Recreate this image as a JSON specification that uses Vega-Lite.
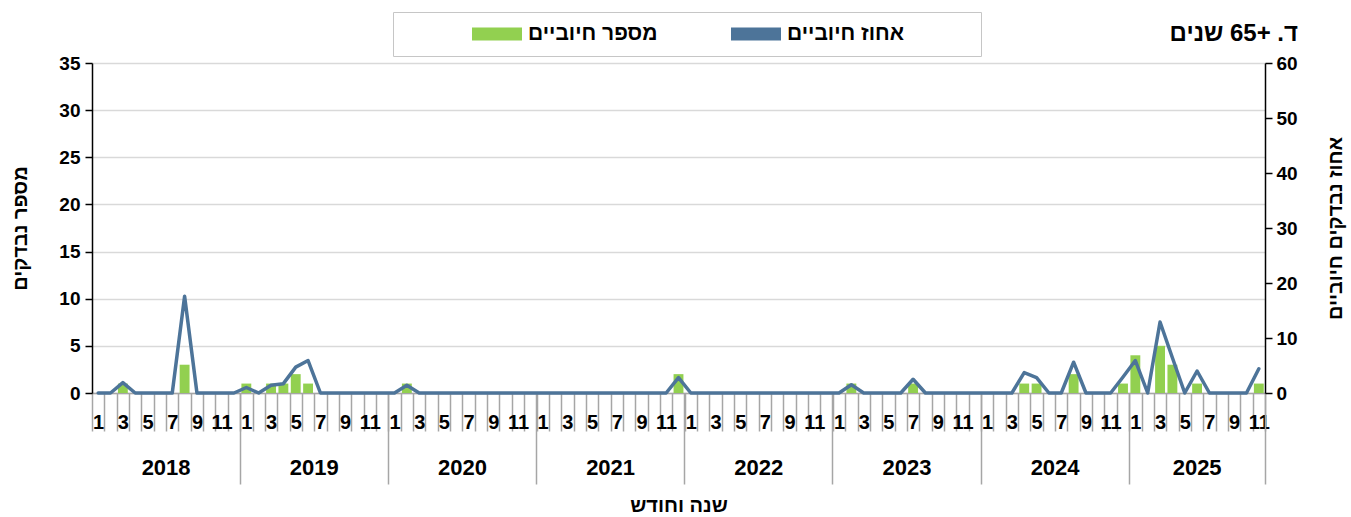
{
  "$schema": "https://vega.github.io/schema/vega-lite/v6.json",
  "width": 1173,
  "height": 330,
  "autosize": {"type": "none"},
  "padding": {"left": 92, "top": 63, "right": 86, "bottom": 124},
  "background": "white",
  "config": {
    "view": {"stroke": null},
    "font": "Liberation Sans",
    "text": {"font": "Liberation Sans"}
  },
  "title": {
    "text": "\u202bד. +65 שנים\u202c",
    "anchor": "end",
    "frame": "group",
    "font": "Liberation Sans",
    "fontSize": 24,
    "fontWeight": "bold",
    "color": "black",
    "offset": 0,
    "dx": 33,
    "dy": 34
  },
  "data": {
    "values": [
      {"ym": "2018-01", "count": 0, "pct": 0}, {"ym": "2018-02", "count": 0, "pct": 0}, {"ym": "2018-03", "count": 1, "pct": 1.9}, {"ym": "2018-04", "count": 0, "pct": 0},
      {"ym": "2018-05", "count": 0, "pct": 0}, {"ym": "2018-06", "count": 0, "pct": 0}, {"ym": "2018-07", "count": 0, "pct": 0}, {"ym": "2018-08", "count": 3, "pct": 17.6},
      {"ym": "2018-09", "count": 0, "pct": 0}, {"ym": "2018-10", "count": 0, "pct": 0}, {"ym": "2018-11", "count": 0, "pct": 0}, {"ym": "2018-12", "count": 0, "pct": 0},
      {"ym": "2019-01", "count": 1, "pct": 1.0}, {"ym": "2019-02", "count": 0, "pct": 0}, {"ym": "2019-03", "count": 1, "pct": 1.4}, {"ym": "2019-04", "count": 1, "pct": 1.7},
      {"ym": "2019-05", "count": 2, "pct": 4.7}, {"ym": "2019-06", "count": 1, "pct": 5.9}, {"ym": "2019-07", "count": 0, "pct": 0}, {"ym": "2019-08", "count": 0, "pct": 0},
      {"ym": "2019-09", "count": 0, "pct": 0}, {"ym": "2019-10", "count": 0, "pct": 0}, {"ym": "2019-11", "count": 0, "pct": 0}, {"ym": "2019-12", "count": 0, "pct": 0},
      {"ym": "2020-01", "count": 0, "pct": 0}, {"ym": "2020-02", "count": 1, "pct": 1.4}, {"ym": "2020-03", "count": 0, "pct": 0}, {"ym": "2020-04", "count": 0, "pct": 0},
      {"ym": "2020-05", "count": 0, "pct": 0}, {"ym": "2020-06", "count": 0, "pct": 0}, {"ym": "2020-07", "count": 0, "pct": 0}, {"ym": "2020-08", "count": 0, "pct": 0},
      {"ym": "2020-09", "count": 0, "pct": 0}, {"ym": "2020-10", "count": 0, "pct": 0}, {"ym": "2020-11", "count": 0, "pct": 0}, {"ym": "2020-12", "count": 0, "pct": 0},
      {"ym": "2021-01", "count": 0, "pct": 0}, {"ym": "2021-02", "count": 0, "pct": 0}, {"ym": "2021-03", "count": 0, "pct": 0}, {"ym": "2021-04", "count": 0, "pct": 0},
      {"ym": "2021-05", "count": 0, "pct": 0}, {"ym": "2021-06", "count": 0, "pct": 0}, {"ym": "2021-07", "count": 0, "pct": 0}, {"ym": "2021-08", "count": 0, "pct": 0},
      {"ym": "2021-09", "count": 0, "pct": 0}, {"ym": "2021-10", "count": 0, "pct": 0}, {"ym": "2021-11", "count": 0, "pct": 0}, {"ym": "2021-12", "count": 2, "pct": 2.8},
      {"ym": "2022-01", "count": 0, "pct": 0}, {"ym": "2022-02", "count": 0, "pct": 0}, {"ym": "2022-03", "count": 0, "pct": 0}, {"ym": "2022-04", "count": 0, "pct": 0},
      {"ym": "2022-05", "count": 0, "pct": 0}, {"ym": "2022-06", "count": 0, "pct": 0}, {"ym": "2022-07", "count": 0, "pct": 0}, {"ym": "2022-08", "count": 0, "pct": 0},
      {"ym": "2022-09", "count": 0, "pct": 0}, {"ym": "2022-10", "count": 0, "pct": 0}, {"ym": "2022-11", "count": 0, "pct": 0}, {"ym": "2022-12", "count": 0, "pct": 0},
      {"ym": "2023-01", "count": 0, "pct": 0}, {"ym": "2023-02", "count": 1, "pct": 1.5}, {"ym": "2023-03", "count": 0, "pct": 0}, {"ym": "2023-04", "count": 0, "pct": 0},
      {"ym": "2023-05", "count": 0, "pct": 0}, {"ym": "2023-06", "count": 0, "pct": 0}, {"ym": "2023-07", "count": 1, "pct": 2.5}, {"ym": "2023-08", "count": 0, "pct": 0},
      {"ym": "2023-09", "count": 0, "pct": 0}, {"ym": "2023-10", "count": 0, "pct": 0}, {"ym": "2023-11", "count": 0, "pct": 0}, {"ym": "2023-12", "count": 0, "pct": 0},
      {"ym": "2024-01", "count": 0, "pct": 0}, {"ym": "2024-02", "count": 0, "pct": 0}, {"ym": "2024-03", "count": 0, "pct": 0}, {"ym": "2024-04", "count": 1, "pct": 3.7},
      {"ym": "2024-05", "count": 1, "pct": 2.8}, {"ym": "2024-06", "count": 0, "pct": 0}, {"ym": "2024-07", "count": 0, "pct": 0}, {"ym": "2024-08", "count": 2, "pct": 5.6},
      {"ym": "2024-09", "count": 0, "pct": 0}, {"ym": "2024-10", "count": 0, "pct": 0}, {"ym": "2024-11", "count": 0, "pct": 0}, {"ym": "2024-12", "count": 1, "pct": 2.9},
      {"ym": "2025-01", "count": 4, "pct": 5.9}, {"ym": "2025-02", "count": 0, "pct": 0}, {"ym": "2025-03", "count": 5, "pct": 12.9}, {"ym": "2025-04", "count": 3, "pct": 6.4},
      {"ym": "2025-05", "count": 0, "pct": 0}, {"ym": "2025-06", "count": 1, "pct": 4.0}, {"ym": "2025-07", "count": 0, "pct": 0}, {"ym": "2025-08", "count": 0, "pct": 0},
      {"ym": "2025-09", "count": 0, "pct": 0}, {"ym": "2025-10", "count": 0, "pct": 0}, {"ym": "2025-11", "count": 1, "pct": 4.4}
    ]
  },
  "layer": [
    {
      "mark": {"type": "bar", "width": {"band": 0.8}},
      "encoding": {
        "x": {
          "field": "ym",
          "type": "ordinal",
          "scale": {"type": "band", "paddingInner": 0, "paddingOuter": 0},
          "axis": {
            "orient": "bottom",
            "tickBand": "extent",
            "tickSize": 38,
            "tickColor": "#a6a6a6",
            "tickWidth": 1.5,
            "domainColor": "#a6a6a6",
            "domainWidth": 1.5,
            "labelExpr": "toNumber(substring(datum.value, 5, 7)) % 2 == 1 ? '' + toNumber(substring(datum.value, 5, 7)) : ''",
            "labelAngle": 0,
            "labelOverlap": false,
            "labelFont": "Liberation Sans",
            "labelFontSize": 20,
            "labelFontWeight": "bold",
            "labelColor": "black",
            "labelBaseline": "middle",
            "labelPadding": -9,
            "title": "שנה וחודש",
            "titleFont": "Liberation Sans",
            "titleFontSize": 20,
            "titleFontWeight": "bold",
            "titleColor": "black",
            "titleX": 586.5,
            "titleY": 112,
            "titleAlign": "center",
            "titleBaseline": "middle",
            "encode": {
              "ticks": {"update": {"y2": {"condition": {"test": "datum.index < 0 || datum.value == '2025-11'", "value": 91}, "value": 38}}}
            }
          }
        },
        "y": {
          "field": "count",
          "type": "quantitative",
          "scale": {"domain": [0, 35], "nice": false},
          "axis": {
            "orient": "left",
            "values": [0, 5, 10, 15, 20, 25, 30, 35],
            "domainColor": "black",
            "domainWidth": 1.5,
            "tickColor": "black",
            "tickWidth": 1.5,
            "tickSize": 7,
            "labelPadding": 5,
            "labelFont": "Liberation Sans",
            "labelFontSize": 19,
            "labelFontWeight": "bold",
            "labelColor": "black",
            "grid": true,
            "gridColor": "#d9d9d9",
            "gridWidth": 1.5,
            "title": "מספר נבדקים",
            "titleFont": "Liberation Sans",
            "titleFontSize": 20,
            "titleFontWeight": "bold",
            "titleColor": "black",
            "titleAngle": 270,
            "titleX": -72,
            "titleY": 165,
            "titleAlign": "center",
            "titleBaseline": "middle"
          }
        },
        "color": {
          "datum": "מספר חיוביים",
          "type": "nominal",
          "scale": {"domain": ["מספר חיוביים", "אחוז חיוביים\u00a0\u00a0\u00a0\u00a0\u00a0\u00a0\u00a0\u00a0\u00a0\u00a0\u00a0\u200d"], "range": ["#92d050", "#4d7499"]},
          "legend": {
            "orient": "none",
            "legendX": 301,
            "legendY": -51,
            "direction": "horizontal",
            "title": "\u200d\u00a0\u00a0\u00a0\u00a0\u00a0\u00a0\u00a0\u00a0\u00a0\u00a0\u00a0\u00a0\u200d",
            "titleOrient": "left",
            "titleFont": "Liberation Sans",
            "titleFontSize": 20,
            "titleFontWeight": "normal",
            "titlePadding": 0,
            "padding": 12,
            "clipHeight": 20,
            "strokeColor": "#c6c6c6",
            "fillColor": "white",
            "columnPadding": 73,
            "symbolSize": 2500,
            "symbolType": "square",
            "labelFont": "Liberation Sans",
            "labelFontSize": 21,
            "labelFontWeight": "bold",
            "labelColor": "black",
            "labelOffset": 6,
            "labelLimit": 0,
            "encode": {
              "symbols": {
                "update": {
                  "shape": {"condition": {"test": "datum.value != 'מספר חיוביים'", "value": "M-1,0H1"}, "value": "M-1,-0.26H1V0.26H-1Z"},
                  "fill": {"condition": {"test": "datum.value != 'מספר חיוביים'", "value": "transparent"}, "value": "#92d050"},
                  "stroke": {"condition": {"test": "datum.value != 'מספר חיוביים'", "value": "#4d7499"}, "value": "transparent"},
                  "strokeWidth": {"condition": {"test": "datum.value != 'מספר חיוביים'", "value": 3.5}, "value": 0},
                  "strokeCap": {"value": "round"},
                  "opacity": {"value": 1}
                }
              }
            }
          }
        }
      }
    },
    {
      "mark": {"type": "line", "strokeWidth": 3.5, "strokeJoin": "round", "strokeCap": "round"},
      "encoding": {
        "x": {
          "field": "ym",
          "type": "ordinal",
          "axis": {
            "orient": "bottom",
            "values": ["2018-12", "2019-12", "2020-12", "2021-12", "2022-12", "2023-12", "2024-12", "2025-11"],
            "bandPosition": 1,
            "tickSize": 91,
            "tickColor": "#a6a6a6",
            "tickWidth": 1.5,
            "domain": false,
            "labelExpr": "substring(datum.value, 0, 4)",
            "labelOffset": {"condition": {"test": "datum.value == '2025-11'", "value": -61.7}, "value": -67.9},
            "labelAngle": 0,
            "labelOverlap": false,
            "labelFont": "Liberation Sans",
            "labelFontSize": 22,
            "labelFontWeight": "bold",
            "labelColor": "black",
            "labelBaseline": "middle",
            "labelPadding": -17,
            "title": null
          }
        },
        "y": {
          "field": "pct",
          "type": "quantitative",
          "scale": {"domain": [0, 60], "nice": false},
          "axis": {
            "orient": "right",
            "values": [0, 10, 20, 30, 40, 50, 60],
            "domainColor": "black",
            "domainWidth": 1.5,
            "tickColor": "black",
            "tickWidth": 1.5,
            "tickSize": 7,
            "labelPadding": 4,
            "labelFont": "Liberation Sans",
            "labelFontSize": 19,
            "labelFontWeight": "bold",
            "labelColor": "black",
            "grid": false,
            "title": "אחוז נבדקים חיוביים",
            "titleFont": "Liberation Sans",
            "titleFontSize": 20,
            "titleFontWeight": "bold",
            "titleColor": "black",
            "titleAngle": 270,
            "titleX": 70,
            "titleY": 165,
            "titleAlign": "center",
            "titleBaseline": "middle"
          }
        },
        "color": {"datum": "אחוז חיוביים\u00a0\u00a0\u00a0\u00a0\u00a0\u00a0\u00a0\u00a0\u00a0\u00a0\u00a0\u200d", "type": "nominal"}
      }
    }
  ],
  "resolve": {
    "scale": {"y": "independent"},
    "axis": {"x": "independent", "y": "independent"}
  }
}
